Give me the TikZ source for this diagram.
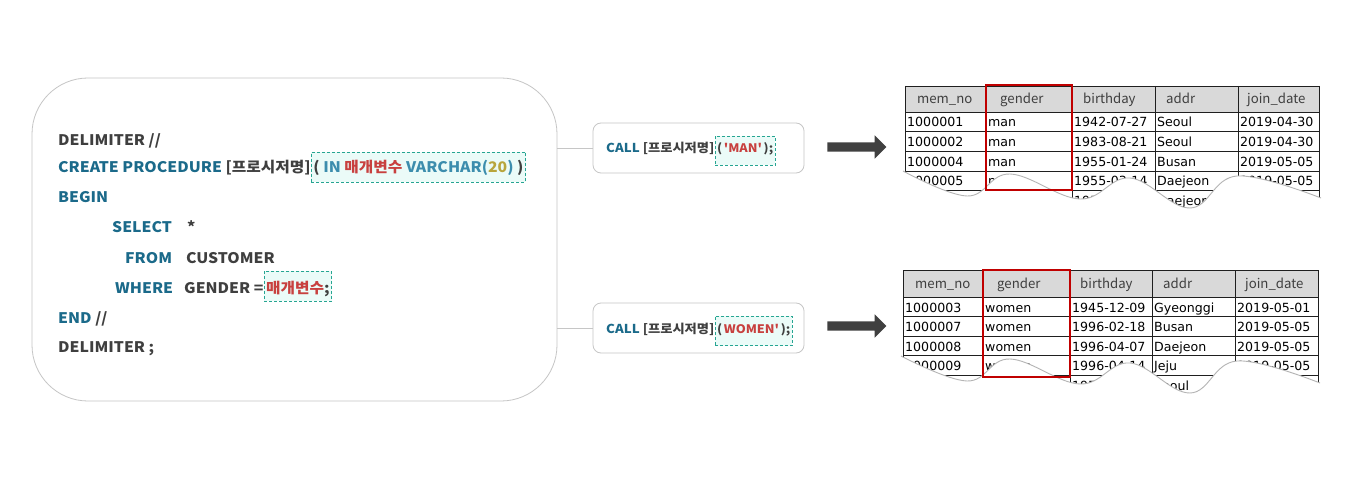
\documentclass[tikz,border=0pt]{standalone}
\usepackage{fontspec}
\newfontfamily\codefont{Noto Sans CJK KR}[FakeStretch=1.08]
\newfontfamily\hdrfont{Noto Sans CJK KR}
\newfontfamily\datafont{DejaVu Sans}
\usetikzlibrary{shapes.arrows}
\definecolor{kwblue}{HTML}{1B6A8A}
\definecolor{inblue}{HTML}{3C8DAD}
\definecolor{redtxt}{HTML}{C8403F}
\definecolor{olivetxt}{HTML}{B8A53C}
\definecolor{txtgray}{HTML}{3F3F3F}
\definecolor{dashc}{HTML}{26A592}
\definecolor{dashfill}{HTML}{EBFBF8}
\definecolor{boxgray}{HTML}{C6C6C6}
\definecolor{arrowc}{HTML}{404040}
\definecolor{hlred}{HTML}{C00000}
\definecolor{hdrfill}{HTML}{D9D9D9}
\definecolor{wavegray}{HTML}{B4B4B4}
\newcommand{\kw}[1]{\textcolor{kwblue}{#1}}
\newcommand{\inb}[1]{\textcolor{inblue}{#1}}
\newcommand{\rd}[1]{\textcolor{redtxt}{#1}}
\newcommand{\ol}[1]{\textcolor{olivetxt}{#1}}
\newcommand{\gp}{\hspace{1.6pt}}
\begin{document}
\begin{tikzpicture}[x=1pt,y=-1pt,
  codefnt/.style={text=txtgray, font=\codefont\bfseries\fontsize{14.6}{17}\selectfont},
  callfnt/.style={text=txtgray, font=\codefont\bfseries\fontsize{12.3}{14}\selectfont},
  callinfnt/.style={text=txtgray, font=\codefont\bfseries\fontsize{11.8}{14}\selectfont},
  code/.style={codefnt, anchor=base west, inner sep=0pt},
  callcode/.style={callfnt, anchor=base west, inner sep=0pt},
  dbox/.style={anchor=base west, draw=dashc, fill=dashfill, dash pattern=on 3pt off 2pt, line width=0.9pt, inner xsep=2pt, inner ysep=0pt},
  bigbox/.style={draw=boxgray, line width=0.8pt, rounded corners=56pt},
  callbox/.style={draw=boxgray, line width=0.8pt, rounded corners=8pt, minimum width=211pt, minimum height=50pt},
  conn/.style={draw=boxgray, line width=0.8pt},
  blockarrow/.style={single arrow, fill=arrowc, minimum height=59pt, single arrow head extend=7pt, inner sep=4.5pt},
  grid/.style={draw=black!88, line width=0.8pt},
  hdr/.style={anchor=base west, inner sep=0pt, text=txtgray, font=\hdrfont\fontsize{13.2}{15}\selectfont},
  cell/.style={anchor=base west, inner sep=0pt, text=black, font=\datafont\fontsize{12.6}{14}\selectfont},
  hl/.style={draw=hlred, line width=2.6pt},
  wave/.style={draw=wavegray, line width=0.9pt}
]
\fill[white] (0,0) rectangle (1351,486);
\useasboundingbox (0,0) rectangle (1351,486);

% big code box
\node[bigbox, minimum width=525pt, minimum height=323pt] (big) at (294.5,239.5) {};
\node[code] (l1) at (58,145.5) {DELIMITER //};
\node[code] (l2) at (58,173) {\kw{CREATE PROCEDURE} [프로시저명]};
\node[dbox, codefnt, text height=21pt, text depth=9pt] (p1) at (l2.base east) {( \inb{IN} \rd{매개변수} \inb{VARCHAR(}\ol{20}\inb{)} )};
\node[code] (l3) at (58,203) {\kw{BEGIN}};
\node[code] (l4) at (112,233) {\kw{SELECT}};
\node[code] (l4b) at (187,233) {*};
\node[code] (l5) at (125,263) {\kw{FROM}};
\node[code] (l5b) at (186,263) {CUSTOMER};
\node[code] (l6) at (115,293) {\kw{WHERE}};
\node[code] (l6b) at (184,293) {GENDER =};
\node[dbox, codefnt, text height=22pt, text depth=8pt] (p2) at (l6b.base east) {\rd{매개변수};};
\node[code] (l7) at (58,323) {\kw{END} //};
\node[code] (l8) at (58,352.5) {DELIMITER ;};

% call boxes
\node[callbox] (c1) at (698.5,148) {};
\node[callcode] (c1t) at (606,153) {\kw{CALL} [프로시저명]};
\node[dbox, callinfnt, text height=17pt, text depth=12.5pt] (c1p) at (c1t.base east) {(\gp\rd{'MAN'}\gp);};
\node[callbox] (c2) at (698.5,328) {};
\node[callcode] (c2t) at (606,333) {\kw{CALL} [프로시저명]};
\node[dbox, callinfnt, text height=17pt, text depth=12.5pt] (c2p) at (c2t.base east) {(\gp\rd{WOMEN'}\gp);};

\draw[conn] (c1.west -| big.east) -- (c1.west);
\draw[conn] (c2.west -| big.east) -- (c2.west);

% block arrows
\node[blockarrow] (a1) at (854.5,147) {};
\node[blockarrow] (a2) at (854.5,326) {};

% ---------- table 1 ----------
\fill[hdrfill] (905,86) rectangle (1319,112);
\foreach \y in {86,112,131.7,151.3,171,190.5,210} \draw[grid] (905,\y) -- (1319,\y);
\foreach \x in {905,986,1072,1155,1238,1319} \draw[grid] (\x,86) -- (\x,210);
\foreach \t/\x [count=\i] in {mem\_no/917, gender/1000, birthday/1083, addr/1166, join\_date/1247}
  \node[hdr] (t1h\i) at (\x,104) {\t};
\foreach \a/\b/\c/\d/\e [count=\r] in {
  1000001/man/1942-07-27/Seoul/2019-04-30,
  1000002/man/1983-08-21/Seoul/2019-04-30,
  1000004/man/1955-01-24/Busan/2019-05-05,
  1000005/man/1955-03-14/Daejeon/2019-05-05,
  1000006/man/1955-05-17/Daejeon/2019-05-05}{
  \pgfmathsetmacro\yy{127+19.6*(\r-1)}
  \node[cell] (t1r\r-1) at (907,\yy) {\a};
  \node[cell] (t1r\r-2) at (988,\yy) {\b};
  \node[cell] (t1r\r-3) at (1074,\yy) {\c};
  \node[cell] (t1r\r-4) at (1157,\yy) {\d};
  \node[cell] (t1r\r-5) at (1240,\yy) {\e};
}
\fill[white] plot[smooth, tension=0.65] coordinates {(903,171)(967,196)(1010,174)(1080,199)(1130,178)(1190,208)(1237,176)(1321,198)} -- (1321,216) -- (903,216) -- cycle;
\draw[wave] plot[smooth, tension=0.65] coordinates {(903,171)(967,196)(1010,174)(1080,199)(1130,178)(1190,208)(1237,176)(1321,198)};
\node[hl, minimum width=86pt, minimum height=105pt, inner sep=0pt] (hl1) at (1029,137.5) {};

% ---------- table 2 ----------
\fill[hdrfill] (903,270) rectangle (1318,297);
\foreach \y in {270,297,316.7,336,355.7,375,394.6} \draw[grid] (903,\y) -- (1318,\y);
\foreach \x in {903,983,1070,1152,1235,1318} \draw[grid] (\x,270) -- (\x,394.6);
\foreach \t/\x [count=\i] in {mem\_no/915, gender/997, birthday/1080, addr/1163, join\_date/1245}
  \node[hdr] (t2h\i) at (\x,288.5) {\t};
\foreach \a/\b/\c/\d/\e [count=\r] in {
  1000003/women/1945-12-09/Gyeonggi/2019-05-01,
  1000007/women/1996-02-18/Busan/2019-05-05,
  1000008/women/1996-04-07/Daejeon/2019-05-05,
  1000009/women/1996-04-14/Jeju/2019-05-05,
  1000010/women/1955-06-11/Seoul/2019-05-26}{
  \pgfmathsetmacro\yy{312+19.6*(\r-1)}
  \node[cell] (t2r\r-1) at (905,\yy) {\a};
  \node[cell] (t2r\r-2) at (985,\yy) {\b};
  \node[cell] (t2r\r-3) at (1072,\yy) {\c};
  \node[cell] (t2r\r-4) at (1154,\yy) {\d};
  \node[cell] (t2r\r-5) at (1237,\yy) {\e};
}
\fill[white] plot[smooth, tension=0.65] coordinates {(901,356)(967,381)(1010,359)(1080,384)(1130,363)(1190,393)(1237,361)(1320,383)} -- (1320,401) -- (901,401) -- cycle;
\draw[wave] plot[smooth, tension=0.65] coordinates {(901,356)(967,381)(1010,359)(1080,384)(1130,363)(1190,393)(1237,361)(1320,383)};
\node[hl, minimum width=87pt, minimum height=107pt, inner sep=0pt] (hl2) at (1026.5,323.5) {};
\end{tikzpicture}
\end{document}
